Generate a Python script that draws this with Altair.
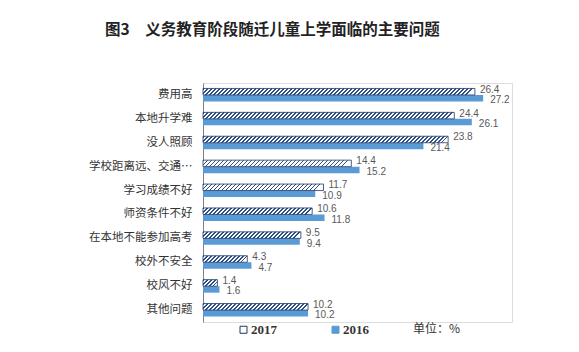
import altair as alt
import pandas as pd

categories = ["费用高", "本地升学难", "没人照顾", "学校距离远、交通…", "学习成绩不好",
              "师资条件不好", "在本地不能参加高考", "校外不安全", "校风不好", "其他问题"]
v2017 = [26.4, 24.4, 23.8, 14.4, 11.7, 10.6, 9.5, 4.3, 1.4, 10.2]
v2016 = [27.2, 26.1, 21.4, 15.2, 10.9, 11.8, 9.4, 4.7, 1.6, 10.2]
years = ["2017", "2016"]
title_text = "图3　义务教育阶段随迁儿童上学面临的主要问题"
unit_text = ["单位：%"]

rows = []
for c, a, b in zip(categories, v2017, v2016):
    rows.append({"cat": c, "year": "2017", "value": a})
    rows.append({"cat": c, "year": "2016", "value": b})
df = pd.DataFrame(rows)

W, H, XMAX = 309, 239, 30
PI = 0.456
px_per_unit = W / XMAX
step = H / len(categories)
bar_h = step * (1 - PI) / 2

NAVY = "#1f3864"
DARK = "#2e4f86"
LIGHT = "#ffffff"
BLUE = "#5b9bd5"
CJK = "Noto Sans CJK SC"


def hatch(w_px, h_px, period=4.0, dark_frac=0.45):
    denom = w_px ** 2 + h_px ** 2
    dt = period * w_px / denom
    stops = []
    k = 0
    while k * dt < 1:
        t0 = k * dt
        t1 = min(t0 + dark_frac * dt, 1)
        t2 = min(t0 + dt, 1)
        stops += [{"offset": t0, "color": DARK}, {"offset": t1, "color": DARK},
                  {"offset": t1, "color": LIGHT}, {"offset": t2, "color": LIGHT}]
        k += 1
    return {"gradient": "linear", "x1": 0, "y1": 0, "x2": 1, "y2": h_px / w_px,
            "stops": stops}


y_enc = alt.Y("cat:N", sort=categories,
              scale=alt.Scale(paddingInner=PI, paddingOuter=PI / 2),
              axis=alt.Axis(title=None, ticks=False, labelPadding=11, labelFontSize=11.5,
                            labelFont=CJK, labelColor="#333333", domainColor="#808080",
                            labelLimit=0))
yoff = alt.YOffset("year:N", sort=years, scale=alt.Scale(domain=years, paddingInner=0, paddingOuter=0))
x_enc = alt.X("value:Q", scale=alt.Scale(domain=[0, XMAX], nice=False, zero=True), axis=None)

base = alt.Chart(df).encode(x=x_enc, y=y_enc, yOffset=yoff)

bars = base.mark_bar().encode(
    color=alt.Color("year:N", sort=years,
                    scale=alt.Scale(domain=years, range=[LIGHT, BLUE]),
                    legend=alt.Legend(title=None, orient="none", legendX=34, legendY=240,
                                      direction="horizontal", symbolType="square",
                                      symbolSize=49, symbolStrokeWidth=1,
                                      symbolStrokeColor={"expr": "datum.value == '2017' ? '%s' : '%s'" % (NAVY, BLUE)},
                                      labelFont="Liberation Serif", labelFontWeight="bold",
                                      labelFontSize=13, labelColor="#333333",
                                      labelOffset=1, columnPadding=52))
)

layers = [bars]
for c, a in zip(categories, v2017):
    g = hatch(a * px_per_unit, bar_h)
    layers.append(
        base.transform_filter((alt.datum.cat == c) & (alt.datum.year == "2017"))
        .mark_bar(fill=g, stroke=NAVY, strokeWidth=0.8)
    )

t17 = base.transform_filter(alt.datum.year == "2017").mark_text(
    align="left", baseline="middle", dx=5, dy=-2, fontSize=10, font="Liberation Sans",
    color="#595959").encode(text=alt.Text("value:Q", format=".1f"))
t16 = base.transform_filter(alt.datum.year == "2016").mark_text(
    align="left", baseline="middle", dx=7, dy=2, fontSize=10, font="Liberation Sans",
    color="#595959").encode(text=alt.Text("value:Q", format=".1f"))
layers += [t17, t16]

unit = alt.Chart(pd.DataFrame({"t": unit_text})).mark_text(
    align="left", baseline="middle", font=CJK, fontSize=12, color="#333333"
).encode(x=alt.value(210), y=alt.value(246), text="t:N")
layers.append(unit)

chart = alt.layer(*layers).properties(
    width=W, height=H,
    title=alt.TitleParams(title_text, anchor="start", frame="group", dx=-98, offset=33,
                          baseline="alphabetic", font=CJK, fontSize=15.5,
                          fontWeight="bold", color="#222222"),
    autosize=alt.AutoSizeParams(type="none"),
    padding={"left": 203, "top": 83, "right": 67, "bottom": 30},
).configure_view(stroke=None).configure(background="white")

chart.save("out.html", embed_options={"renderer": "svg", "actions": False})
